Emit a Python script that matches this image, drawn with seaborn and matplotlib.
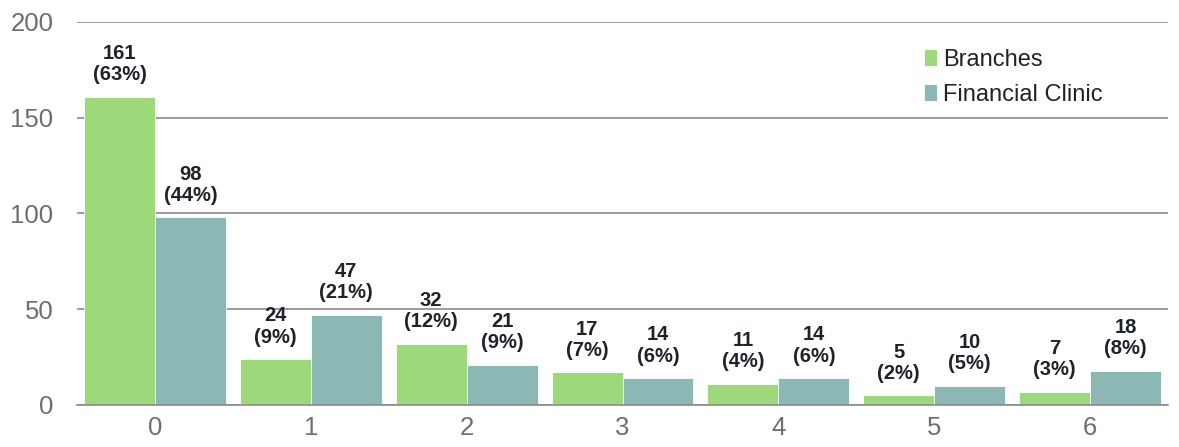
import matplotlib
matplotlib.use("Agg")
import matplotlib.pyplot as plt
import seaborn as sns
import pandas as pd

categories = ["0", "1", "2", "3", "4", "5", "6"]
branches = [161, 24, 32, 17, 11, 5, 7]
branches_pct = [63, 9, 12, 7, 4, 2, 3]
clinic = [98, 47, 21, 14, 14, 10, 18]
clinic_pct = [44, 21, 9, 6, 6, 5, 8]
series = ["Branches", "Financial Clinic"]
colors = ["#9dd87a", "#8bb7b4"]

df = pd.DataFrame({
    "cat": categories * 2,
    "value": branches + clinic,
    "series": [series[0]] * len(categories) + [series[1]] * len(categories),
})

sns.set_theme(style="white")
plt.rcParams['font.family'] = ['Liberation Sans', 'DejaVu Sans']

fig = plt.figure(figsize=(11.79, 4.47), dpi=100)
ax = fig.add_axes([0.0653, 0.094, 0.9254, 0.857])

sns.barplot(data=df, x="cat", y="value", hue="series", order=categories,
            hue_order=series, palette=colors, width=0.91, saturation=1,
            ax=ax, legend=True)

for b in ax.patches:
    b.set_edgecolor("white")
    b.set_linewidth(0.6)

ax.set_ylim(0, 200)
ax.set_xlim(-0.5, len(categories) - 0.5)
ax.set_yticks([0, 50, 100, 150, 200])
ax.yaxis.grid(True, color="#8a8a8a", linewidth=1.2)
ax.set_axisbelow(True)
for s in ["left", "right", "top"]:
    ax.spines[s].set_visible(False)
ax.spines["bottom"].set_color("#8a8a8a")
ax.spines["bottom"].set_linewidth(1.2)
ax.set_xlabel("")
ax.set_ylabel("")
ax.tick_params(axis="y", length=0, labelsize=18.5, labelcolor="#6e6e6e", pad=17)
ax.tick_params(axis="x", which="major", length=0, labelsize=18.5, labelcolor="#6e6e6e", pad=8)
ax.set_xticks([i - 0.5 for i in range(len(categories) + 1)], minor=True)
ax.tick_params(axis="x", which="minor", length=6, width=1.2, color="#8a8a8a", direction="out")

# annotations
containers = ax.containers
for cont, vals, pcts in zip(containers, [branches, clinic], [branches_pct, clinic_pct]):
    for bar, v, p in zip(cont, vals, pcts):
        x = bar.get_x() + bar.get_width() / 2
        ax.annotate(f"{v}\n({p}%)", (x, bar.get_height()), xytext=(0, 9),
                    textcoords="offset points", ha="center", va="bottom",
                    fontsize=14.5, fontweight="bold", color="#1e232a",
                    linespacing=1.15)

leg = ax.legend(loc="upper right", bbox_to_anchor=(0.949, 0.955), frameon=False,
                fontsize=17, handlelength=0.55, handleheight=0.7, handletextpad=0.25,
                labelspacing=0.55, borderaxespad=0)
for t in leg.get_texts():
    t.set_color("#1e232a")

fig.savefig("out.png", dpi=100)
